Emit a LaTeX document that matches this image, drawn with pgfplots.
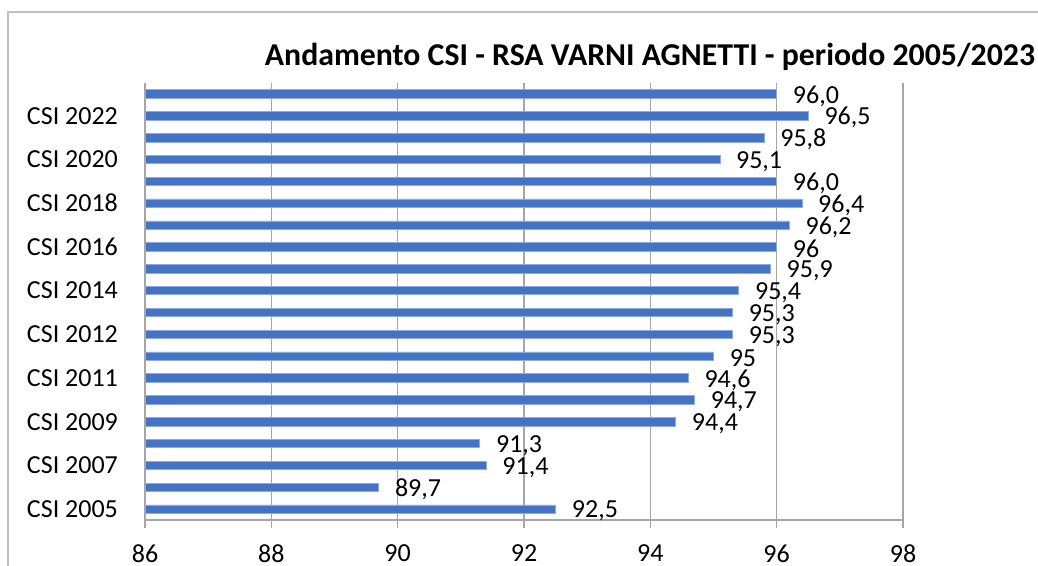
\documentclass[border=0pt]{standalone}
\usepackage{pgfplots}
\pgfplotsset{compat=1.18}
\usepackage{pgfplotstable}
\usepackage{fontspec}
\setmainfont{Carlito}
\definecolor{barblue}{HTML}{4472C4}
\definecolor{gridgray}{HTML}{A6A6A6}
\pgfplotstableread{
y val lab
0 92.5 92,5
1 89.7 89,7
2 91.4 91,4
3 91.3 91,3
4 94.4 94,4
5 94.7 94,7
6 94.6 94,6
7 95.0 95
8 95.3 95,3
9 95.3 95,3
10 95.4 95,4
11 95.9 95,9
12 96.0 96
13 96.2 96,2
14 96.4 96,4
15 96.0 96,0
16 95.1 95,1
17 95.8 95,8
18 96.5 96,5
19 96.0 96,0
}\datatable
\begin{document}
\begin{tikzpicture}
\useasboundingbox (0,0) rectangle (519pt,283pt);
\draw[gridgray!70, line width=0.6pt] (4pt,-20pt) rectangle (540pt,277pt);
\begin{axis}[
  at={(72.5pt,23pt)}, anchor=south west,
  scale only axis, width=379pt, height=218.5pt,
  xbar, bar width=4.2pt,
  xmin=86, xmax=98, ymin=-0.5, ymax=19.5,
  axis lines=left, axis line style={-, gridgray, line width=0.6pt},
  xtick={86,88,...,98},
  xmajorgrids, grid style={gridgray, line width=0.6pt},
  ytick={0,2,...,18},
  yticklabels={CSI 2005,CSI 2007,CSI 2009,CSI 2011,CSI 2012,CSI 2014,CSI 2016,CSI 2018,CSI 2020,CSI 2022},
  extra y ticks={-0.5,0.5,...,19.5},
  extra y tick labels={},
  extra y tick style={major tick length=4pt, tick style={gridgray, line width=0.6pt}, tick align=outside},
  y tick style={draw=none},
  x tick style={gridgray, line width=0.6pt},
  major tick length=4pt, tick align=outside,
  ticklabel style={font=\fontsize{13}{15}\selectfont},
  xticklabel style={yshift=-5pt},
  yticklabel style={xshift=-6pt},
  /pgf/number format/assume math mode=true,
  point meta=explicit symbolic,
  nodes near coords,
  nodes near coords style={font=\fontsize{13}{15}\selectfont, anchor=west, xshift=8pt, yshift=-1pt, inner sep=0pt},
]
\addplot[fill=barblue, draw=barblue!60!white, line width=0.3pt] table[x=val, y=y, meta=lab] {\datatable};
\end{axis}
\node[font=\bfseries\fontsize{15.9}{18}\selectfont] at (325pt,254.5pt) {Andamento CSI - RSA VARNI AGNETTI - periodo 2005/2023};
\end{tikzpicture}
\end{document}
